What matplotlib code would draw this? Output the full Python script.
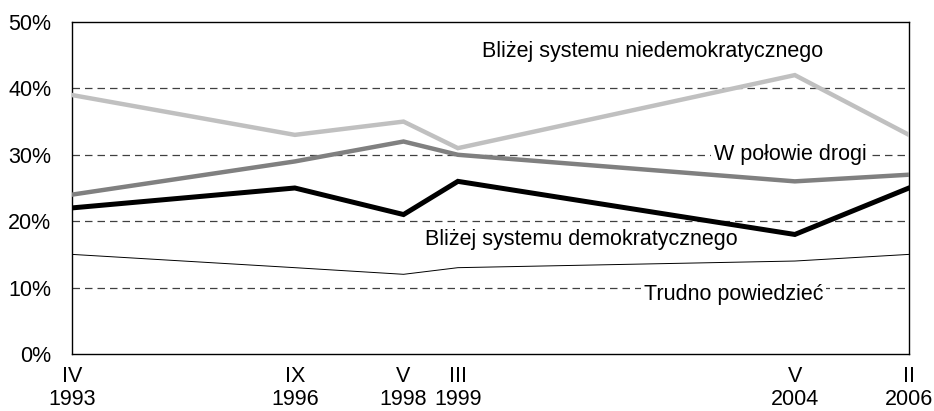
import matplotlib
matplotlib.use('Agg')
import matplotlib.pyplot as plt

plt.rcParams['font.family'] = ['Liberation Sans', 'DejaVu Sans']

# survey dates as (year, month)
dates = [(1993, 4), (1996, 9), (1998, 5), (1999, 3), (2004, 5), (2006, 2)]
tick_labels = ['IV\n1993', 'IX\n1996', 'V\n1998', 'III\n1999', 'V\n2004', 'II\n2006']

niedemokr = [39, 33, 35, 31, 42, 33]
polowa = [24, 29, 32, 30, 26, 27]
demokr = [22, 25, 21, 26, 18, 25]
trudno = [15, 13, 12, 13, 14, 15]

x = [y + (m - 1) / 12.0 for y, m in dates]

fig = plt.figure(figsize=(9.34, 4.11), dpi=100)
ax = fig.add_axes([0.0771, 0.1387, 0.8961, 0.8078])

for yv in [10, 20, 30, 40]:
    ax.axhline(yv, color='#404040', lw=0.9, ls=(0, (6, 4)), zorder=1)

ax.plot(x, niedemokr, color='#c0c0c0', lw=3.2, zorder=3, solid_joinstyle='miter')
ax.plot(x, polowa, color='#808080', lw=3.2, zorder=3, solid_joinstyle='miter')
ax.plot(x, demokr, color='black', lw=3.6, zorder=4, solid_joinstyle='miter')
ax.plot(x, trudno, color='black', lw=0.7, zorder=3)

ax.set_xlim(x[0], x[-1])
ax.set_ylim(0, 50)
ax.set_yticks(range(0, 51, 10))
ax.set_yticklabels(['%d%%' % v for v in range(0, 51, 10)], fontsize=15.5)
ax.set_xticks(x)
ax.set_xticklabels(tick_labels, fontsize=15.5, linespacing=1.1)
ax.tick_params(length=0)
ax.tick_params(axis='x', pad=9)
ax.tick_params(axis='y', pad=15)
for s in ax.spines.values():
    s.set_color('black')
    s.set_linewidth(1.0)

bg = dict(facecolor='white', edgecolor='none', pad=2)
ax.text(2002.15, 45.5, 'Bliżej systemu niedemokratycznego', fontsize=15.5, ha='center', va='center')
ax.text(2004.26, 30, 'W połowie drogi', fontsize=15.5, ha='center', va='center', bbox=bg, zorder=5)
ax.text(2001.06, 17.2, 'Bliżej systemu demokratycznego', fontsize=15.5, ha='center', va='center')
ax.text(2003.39, 8.9, 'Trudno powiedzieć', fontsize=15.5, ha='center', va='center', bbox=bg, zorder=5)

fig.savefig('out.png', dpi=100)
